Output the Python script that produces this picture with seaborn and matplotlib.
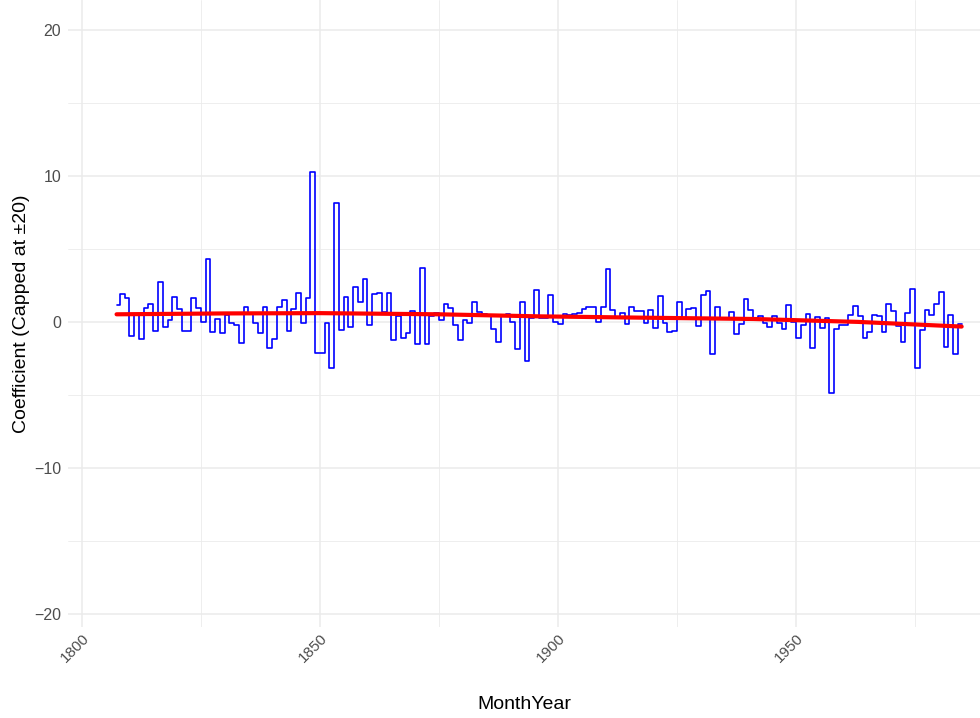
import numpy as np
import pandas as pd
import matplotlib
matplotlib.use("Agg")
import matplotlib.pyplot as plt
import seaborn as sns

# ---- data ----
years = list(range(1807, 1985))
first_obs = 1807.3
last_obs = 1984.8
coef = [
    1.14, 1.89, 1.62, -0.94, 0.53, -1.16, 0.94, 1.23, -0.59, 2.72,
    -0.32, 0.11, 1.69, 0.89, -0.64, -0.64, 1.62, 0.94, -0.02, 4.34,
    -0.68, 0.21, -0.78, 0.46, -0.05, -0.18, -1.42, 1.03, 0.55, -0.09,
    -0.75, 1.00, -1.80, -1.16, 1.03, 1.50, -0.64, 0.91, 2.00, -0.07,
    1.62, 10.30, -2.15, -2.15, -0.10, -3.17, 8.17, -0.55, 1.69, -0.32,
    2.37, 1.39, 2.95, -0.20, 1.90, 2.00, 0.71, 2.00, -1.23, 0.37,
    -1.07, -0.78, 0.75, -1.53, 3.68, -1.53, 0.37, 0.64, 0.11, 1.23,
    0.98, -0.20, -1.26, 0.14, -0.09, 1.39, 0.71, 0.55, 0.45, -0.48,
    -1.35, 0.37, 0.53, 0.02, -1.87, 1.35, -2.65, 0.25, 2.19, 0.25,
    0.30, 1.85, -0.02, -0.14, 0.55, 0.50, 0.55, 0.60, 0.90, 1.05,
    1.05, -0.02, 1.05, 3.63, 0.82, 0.25, 0.60, -0.16, 1.05, 0.78,
    0.78, -0.05, 0.82, -0.43, 1.78, -0.05, -0.71, -0.59, 1.39, 0.30,
    0.87, 0.94, -0.27, 1.85, 2.12, -2.19, 1.05, 0.25, 0.25, 0.71,
    -0.84, -0.16, 1.58, 0.82, 0.30, 0.37, -0.05, -0.32, 0.37, -0.05,
    -0.50, 1.17, 0.02, -1.07, -0.20, 0.53, -1.80, 0.32, -0.43, 0.25,
    -4.89, -0.50, -0.20, -0.20, 0.48, 1.12, 0.37, -1.12, -0.66, 0.48,
    0.37, -0.66, 1.23, 0.78, -0.25, -1.39, 0.64, 2.26, -3.13, -0.55,
    0.82, 0.45, 1.23, 2.03, -1.69, 0.48, -2.19, -0.16,
]
trend_years = [1807.3, 1830, 1850, 1875, 1896, 1920, 1941, 1963, 1984.8]
trend_vals = [0.52, 0.58, 0.60, 0.52, 0.38, 0.28, 0.20, 0.00, -0.32]

x_tick_major = [1800, 1850, 1900, 1950]
x_tick_minor = [1825, 1875, 1925, 1975]
y_tick_major = [-20, -10, 0, 10, 20]
y_tick_minor = [-15, -5, 5, 15]

# ---- build frames ----
xs = [float(y) for y in years]
xs[0] = first_obs
step_df = pd.DataFrame({"MonthYear": xs + [last_obs], "Coefficient": coef + [coef[-1]]})
trend_df = pd.DataFrame({"MonthYear": trend_years, "Coefficient": trend_vals})

sns.set_theme(style="white")
plt.rcParams["font.family"] = ["Liberation Sans", "DejaVu Sans"]

fig = plt.figure(figsize=(9.8, 7.18), dpi=100)
ax = fig.add_axes([68 / 980, (718 - 627) / 718, (980 - 68) / 980, 627 / 718])

sns.lineplot(data=step_df, x="MonthYear", y="Coefficient", ax=ax,
             drawstyle="steps-post", color="#0000FF", linewidth=1.2,
             estimator=None, sort=True, zorder=3)
sns.lineplot(data=trend_df, x="MonthYear", y="Coefficient", ax=ax,
             color="#FF0000", linewidth=3.0, estimator=None, zorder=4)

ax.set_xlim(1797.1, 1988.65)
ax.set_ylim(-20.9, 22.05)
ax.set_xticks(x_tick_major)
ax.set_xticks(x_tick_minor, minor=True)
ax.set_yticks(y_tick_major)
ax.set_yticks(y_tick_minor, minor=True)
ax.set_yticklabels(["\u221220", "\u221210", "0", "10", "20"])

ax.grid(True, which="major", color="#EBEBEB", linewidth=1.1)
ax.grid(True, which="minor", color="#EBEBEB", linewidth=0.6)
ax.set_axisbelow(True)
for s in ax.spines.values():
    s.set_visible(False)

ax.tick_params(axis="both", which="both", length=0)
ax.tick_params(axis="y", labelsize=11.5, labelcolor="#4D4D4D", pad=5)
ax.tick_params(axis="x", labelsize=11, labelcolor="#4D4D4D", pad=3)
for lab in ax.get_xticklabels():
    lab.set_rotation(45)
    lab.set_ha("right")
    lab.set_rotation_mode("anchor")

ax.set_xlabel("MonthYear", fontsize=14, color="black", labelpad=22)
ax.set_ylabel("Coefficient (Capped at \u00b120)", fontsize=14, color="black", labelpad=3)

fig.savefig("out.png", dpi=100)
